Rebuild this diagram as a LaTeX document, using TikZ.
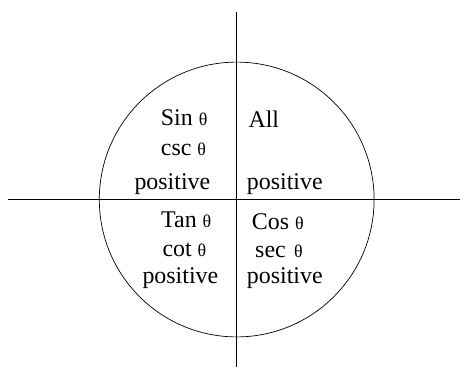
\documentclass[tikz,border=0pt]{standalone}
\usepackage{fontspec}
\setmainfont{Liberation Serif}
\newcommand{\tht}{{\fontsize{18}{20}\selectfont θ}}
\begin{document}
\begin{tikzpicture}[x=1bp,y=-1bp,
	word/.style={ anchor=base west, inner sep=0pt, font=\fontsize{24}{28}\selectfont },
	axis/.style={ line width=0.7bp }
]
\useasboundingbox (0,0) rectangle (460,367);

\coordinate (o) at (236.7,199.5);
\coordinate (w) at (8,199.5);
\coordinate (e) at (460,199.5);
\coordinate (n) at (236.7,12);
\coordinate (s) at (236.7,367);
\draw[axis] (w) -- (e);
\draw[axis] (n) -- (s);
\draw[axis] (o) circle (137.4);

\node at (160.7,125) (sinq) [word] {Sin \tht};
\node at (160.7,155.7) (cscq) [word] {csc \tht};
\node at (134.3,189) (posb) [word] {positive};
\node at (248.3,127.7) (allq) [word] {All};
\node at (246.7,189) (posa) [word] {positive};
\node at (161,227.7) (tanq) [word] {Tan \tht};
\node at (162.3,256) (cotq) [word] {cot \tht};
\node at (142.3,283.3) (posc) [word] {positive};
\node at (251.7,229.3) (cosq) [word] {Cos \tht};
\node at (255,257.3) (secq) [word] {sec\hspace{8.5bp}\tht};
\node at (246.7,283.3) (posd) [word] {positive};

\end{tikzpicture}
\end{document}
